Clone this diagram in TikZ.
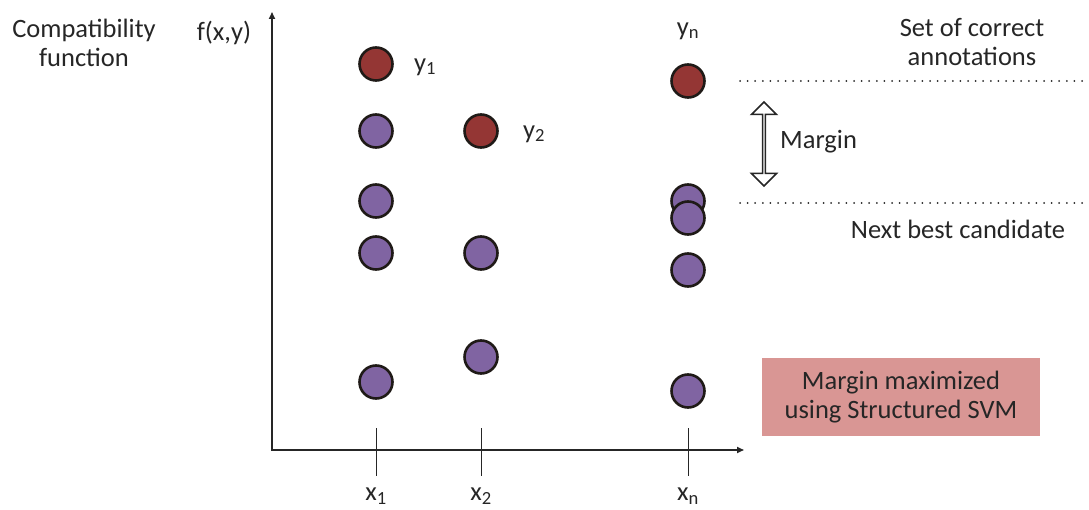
\documentclass[tikz,border=0pt]{standalone}
\usepackage{fontspec}
\setmainfont{Carlito}
\usetikzlibrary{arrows.meta, positioning, shapes.arrows}
\definecolor{cPos}{HTML}{943634}
\definecolor{cNeg}{HTML}{8064A2}
\definecolor{cRim}{HTML}{1F1A17}
\definecolor{cBox}{HTML}{D99694}
\definecolor{cInk}{HTML}{262626}

\begin{document}
\begin{tikzpicture}[x=1pt, y=-1pt,
    txt/.style={font=\fontsize{26.5}{29}\selectfont, text=cInk, align=center, inner sep=0pt},
    pt/.style ={circle, minimum size=33pt, inner sep=0pt, draw=cRim, line width=2.6pt},
    ppos/.style={pt, fill=cPos},
    pneg/.style={pt, fill=cNeg},
    axis/.style={-{Triangle[length=7pt,width=6pt]}, line width=1.6pt, draw=cInk},
    tick/.style={line width=1pt, draw=cInk},
    guide/.style={dash pattern=on 0pt off 7.6pt, line width=2pt, draw=cInk, line cap=round},
]
\useasboundingbox (0,0) rectangle (1089,510);

% === AXES ===
\coordinate (org) at (272,450);
\coordinate (ytop) at (272,12);
\coordinate (xend) at (744,450);
\draw[axis] (org) -- (ytop);
\draw[axis] ([xshift=-0.8pt]org) -- (xend);

\node[txt] (cf) at (84,43) {Compatibility\\function};
\node[txt] (fxy) at (224,33) {f(x,y)};

% === TICKS ===
\coordinate (t1a) at (376,428); \coordinate (t1b) at (376,476);
\coordinate (t2a) at (481,428); \coordinate (t2b) at (481,476);
\coordinate (tna) at (688,428); \coordinate (tnb) at (688,476);
\draw[tick] (t1a) -- (t1b);
\draw[tick] (t2a) -- (t2b);
\draw[tick] (tna) -- (tnb);
\node[txt, below=12pt of t1b] (x1) {x\textsubscript{1}};
\node[txt, below=12pt of t2b] (x2) {x\textsubscript{2}};
\node[txt, below=12pt of tnb] (xn) {x\textsubscript{n}};

% === COLUMN x1 ===
\node[ppos] (p1) at (376,64) {};
\node[pneg] (a1) at (376,131) {};
\node[pneg] (a2) at (376,201) {};
\node[pneg] (a3) at (376,253) {};
\node[pneg] (a4) at (376,382) {};
\node[txt, right=20pt of p1, yshift=-3pt] (y1) {y\textsubscript{1}};

% === COLUMN x2 ===
\node[ppos] (p2) at (481,131) {};
\node[pneg] (b1) at (481,253) {};
\node[pneg] (b2) at (481,357) {};
\node[txt, right=24pt of p2, yshift=-3pt] (y2) {y\textsubscript{2}};

% === COLUMN xn ===
\node[ppos] (pn) at (688,81) {};
\node[pneg] (n1) at (688,201) {};
\node[pneg] (n2) at (688,218) {};
\node[pneg] (n3) at (688,270) {};
\node[pneg] (n4) at (688,391) {};
\node[txt] (yn) at (688,31) {y\textsubscript{n}};

% === MARGIN ===
\coordinate (g1a) at (740,81);  \coordinate (g1b) at (1089,81);
\coordinate (g2a) at (740,203); \coordinate (g2b) at (1089,203);
\draw[guide] (g1a) -- (g1b);
\draw[guide] (g2a) -- (g2b);
\node[txt] (best) at (972,42) {Set of correct\\annotations};
\node[txt] (next) at (958,229) {Next best candidate};

\node[double arrow, rotate=90, draw=cInk, fill=white, line width=1.5pt,
      minimum width=25pt, minimum height=84pt, inner sep=0pt,
      double arrow head extend=6pt] (mar) at (764,144) {};
\node[txt, anchor=west] (mlab) at (780,142) {Margin};

% === NOTE ===
\node[txt, fill=cBox, minimum width=278pt, minimum height=78pt] (note)
    at (901,397) {Margin maximized\\using Structured SVM};

\end{tikzpicture}
\end{document}
